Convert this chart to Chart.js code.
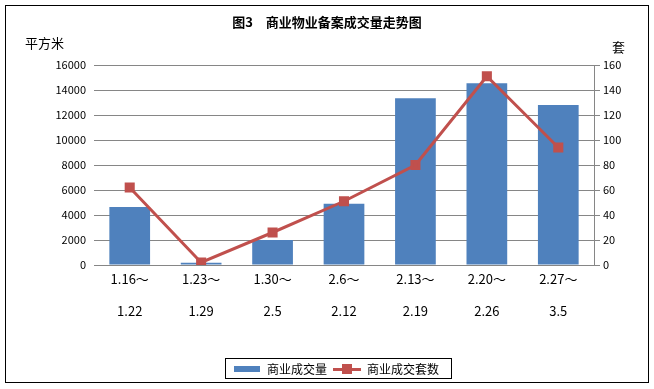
<!DOCTYPE html>
<html>
<head>
<meta charset="utf-8">
<script src="https://cdn.jsdelivr.net/npm/chart.js@4/dist/chart.umd.min.js"></script>
<style>
  html, body { margin: 0; padding: 0; background: #ffffff; }
  #wrap { width: 654px; height: 389px; }
</style>
</head>
<body>
<div id="wrap"><canvas id="myChart" width="654" height="389"></canvas></div>
<script>
// 周期（两行标签）
const periodos = [
    ["1.16～", "1.22"],
    ["1.23～", "1.29"],
    ["1.30～", "2.5"],
    ["2.6～", "2.12"],
    ["2.13～", "2.19"],
    ["2.20～", "2.26"],
    ["2.27～", "3.5"]
];
// 商业成交量（平方米）
const areaVendida = [4650, 180, 2000, 4900, 13350, 14550, 12800];
// 商业成交套数（套）
const unidadesVendidas = [62, 2, 26, 51, 80, 151, 94];
// 刻度
const ticksIzq = [0, 2000, 4000, 6000, 8000, 10000, 12000, 14000, 16000];
const ticksDer = [0, 20, 40, 60, 80, 100, 120, 140, 160];

const fuente = "'Noto Sans CJK SC', 'Noto Sans', sans-serif";
const azul = "#4F81BD";
const rojo = "#C0504D";
const gris = "#868686";

// iconos de la leyenda
function iconoBarra() {
    const c = document.createElement("canvas");
    c.width = 26; c.height = 6;
    const g = c.getContext("2d");
    g.fillStyle = azul;
    g.fillRect(0, 0, 26, 6);
    return c;
}
function iconoLinea() {
    const c = document.createElement("canvas");
    c.width = 28; c.height = 10;
    const g = c.getContext("2d");
    g.fillStyle = rojo;
    g.fillRect(0, 4, 28, 3);
    g.fillRect(9, 0, 10, 10);
    return c;
}

// textos extra y marcos
const decoraciones = {
    id: "decoraciones",
    afterLayout(chart) {
        // la leyenda original no está centrada
        chart.legend.left += 9;
        chart.legend.right += 9;
    },
    afterDraw(chart) {
        const ctx = chart.ctx;
        ctx.save();
        ctx.fillStyle = "#000";
        ctx.textBaseline = "middle";
        ctx.font = "bold 13px " + fuente;
        ctx.textAlign = "center";
        ctx.fillText("图3　商业物业备案成交量走势图", 327, 22);
        ctx.font = "13px " + fuente;
        ctx.textAlign = "left";
        ctx.fillText("平方米", 25, 43);
        ctx.fillText("套", 612, 47);

        // marco del gráfico
        ctx.strokeStyle = "#000";
        ctx.lineWidth = 1;
        ctx.strokeRect(5.5, 5.5, 643, 377);

        // marco de la leyenda
        const cajas = chart.legend.legendHitBoxes;
        if (cajas && cajas.length) {
            let x0 = Infinity, x1 = -Infinity, y0 = Infinity, y1 = -Infinity;
            cajas.forEach(b => {
                x0 = Math.min(x0, b.left); x1 = Math.max(x1, b.left + b.width);
                y0 = Math.min(y0, b.top); y1 = Math.max(y1, b.top + b.height);
            });
            const yc = Math.round((y0 + y1) / 2);
            ctx.strokeRect(Math.round(x0) - 7.5, yc - 10.5, Math.round(x1 - x0) + 20, 20);
        }
        ctx.restore();
    }
};

const ctx = document.getElementById("myChart").getContext("2d");
const myChart = new Chart(ctx, {
    data: {
        labels: periodos,
        datasets: [
            {
                type: "line",
                label: "商业成交套数",
                data: unidadesVendidas,
                yAxisID: "y1",
                borderColor: rojo,
                backgroundColor: rojo,
                borderWidth: 3,
                pointStyle: "rect",
                pointRadius: 5,
                pointHoverRadius: 5,
                pointBackgroundColor: rojo,
                pointBorderColor: rojo,
                tension: 0,
                order: 0
            },
            {
                type: "bar",
                label: "商业成交量",
                data: areaVendida,
                yAxisID: "y",
                backgroundColor: azul,
                borderWidth: 0,
                barPercentage: 0.57,
                categoryPercentage: 1,
                order: 1
            }
        ]
    },
    options: {
        responsive: false,
        animation: false,
        devicePixelRatio: 1,
        layout: { padding: { top: 65, left: 0, right: 0, bottom: 4 } },
        plugins: {
            title: { display: false },
            tooltip: { enabled: false },
            legend: {
                position: "bottom",
                reverse: true,
                labels: {
                    usePointStyle: true,
                    pointStyleWidth: 28,
                    boxWidth: 28,
                    padding: 6,
                    color: "#000",
                    font: { family: fuente, size: 12 },
                    generateLabels(chart) {
                        return chart.data.datasets.map((ds, i) => ({
                            text: ds.label,
                            pointStyle: ds.type === "bar" ? iconoBarra() : iconoLinea(),
                            datasetIndex: i,
                            fillStyle: ds.backgroundColor,
                            strokeStyle: ds.backgroundColor,
                            lineWidth: 0,
                            hidden: false
                        }));
                    }
                }
            }
        },
        scales: {
            x: {
                grid: { display: false },
                border: { display: false },
                ticks: {
                    color: "#000",
                    padding: -10,
                    maxRotation: 0,
                    autoSkip: false,
                    font: { family: fuente, size: 13, lineHeight: 2.45 }
                },
                afterFit(scale) { scale.height = 92; }
            },
            y: {
                position: "left",
                min: 0,
                max: 16000,
                afterBuildTicks(scale) { scale.ticks = ticksIzq.map(v => ({ value: v })); },
                grid: { color: gris, lineWidth: 1, drawTicks: false },
                border: { display: false },
                ticks: {
                    color: "#000",
                    padding: 8,
                    font: { family: fuente, size: 11 },
                    callback: v => String(v)
                },
                afterFit(scale) { scale.width = 94; }
            },
            y1: {
                position: "right",
                min: 0,
                max: 160,
                afterBuildTicks(scale) { scale.ticks = ticksDer.map(v => ({ value: v })); },
                grid: { drawOnChartArea: false, drawTicks: true, tickLength: 6, color: gris },
                border: { display: true, color: gris, width: 1 },
                ticks: {
                    color: "#000",
                    padding: 3,
                    font: { family: fuente, size: 11 },
                    callback: v => String(v)
                },
                afterFit(scale) { scale.width = 60; }
            }
        }
    },
    plugins: [decoraciones]
});
</script>
</body>
</html>
